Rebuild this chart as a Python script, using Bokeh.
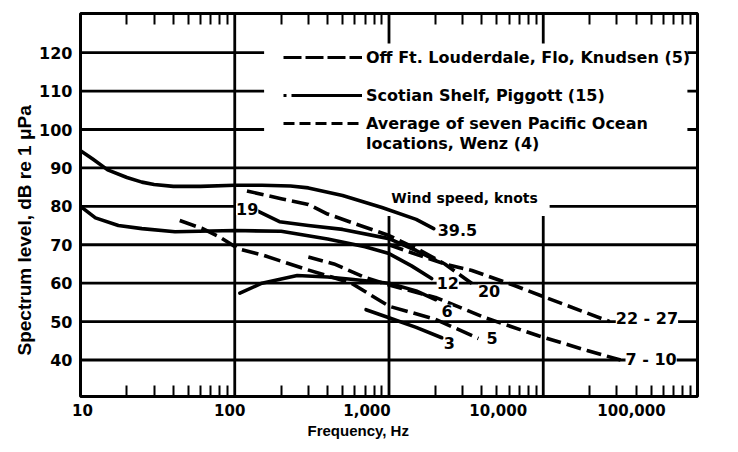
import math
from bokeh.plotting import figure
from bokeh.models import (FixedTicker, LogAxis, Label, Legend, LegendItem, Range1d, Title,
                          CustomJSTickFormatter)
from bokeh.embed import file_html
from bokeh.resources import INLINE

# ---------------- data ----------------
X_TICKS = [10, 100, 1000, 10000, 100000]
X_TICK_LABELS = ["10", "100", "1,000", "10,000", "100,000"]
Y_TICKS = [40, 50, 60, 70, 80, 90, 100, 110, 120]

# Scotian Shelf, Piggott (solid)
p39_f = [10, 12, 15, 20, 25, 30, 40, 60, 100, 150, 230, 300, 500, 900, 1500, 1950]
p39_db = [94.5, 92.3, 89.5, 87.5, 86.3, 85.7, 85.2, 85.2, 85.5, 85.5, 85.3, 84.8, 82.8, 79.7, 76.6, 74.2]
p19_f = [140, 195, 300, 500, 1000, 1500, 2000]
p19_db = [78.8, 76.0, 75.0, 74.0, 71.6, 68.5, 66.0]
p12_f = [10, 12.5, 17.6, 25, 41, 100, 200, 400, 700, 1000, 1400, 1890]
p12_db = [80.0, 77.0, 75.0, 74.2, 73.4, 73.7, 73.5, 71.5, 69.5, 67.7, 64.5, 61.2]
p6_f = [108, 150, 254, 400, 566, 1000, 1500, 2000]
p6_db = [57.4, 60.0, 62.0, 61.6, 61.0, 60.0, 58.0, 55.7]
p3_f = [710, 1000, 1500, 2200]
p3_db = [53.1, 51.0, 48.5, 45.8]
# Off Ft. Lauderdale, Knudsen (long dash)
k20_f = [120, 200, 300, 400, 600, 1000, 1600, 2300, 3450]
k20_db = [84.0, 82.0, 80.5, 78.0, 75.5, 72.4, 68.5, 65.0, 59.9]
k5_f = [44, 61, 80, 105, 155, 280, 570, 1000, 2000, 3800]
k5_db = [76.3, 74.3, 72.0, 69.0, 67.2, 63.8, 60.0, 54.0, 50.6, 45.6]
# Average of seven Pacific Ocean locations, Wenz (dashed)
w22_f = [1000, 1500, 2300, 3450, 6500, 10000, 27000]
w22_db = [70.0, 67.5, 65.0, 63.3, 59.4, 56.5, 50.0]
w7_f = [300, 440, 700, 1000, 2000, 4200, 9300, 19500, 31700]
w7_db = [66.8, 65.0, 61.5, 59.5, 56.3, 51.0, 46.3, 42.4, 40.0]

LEGEND_LABELS = ["Off Ft. Louderdale, Flo, Knudsen (5)", "Scotian Shelf, Piggott (15)",
                 "Average of seven Pacific Ocean", "locations, Wenz (4)"]

FONT = "DejaVu Sans"
TFONT = "Liberation Sans"
Y0, Y1 = 30.5, 130.2
X0, X1 = 10, 100000
PX_PER_DECADE = 154.25

p = figure(width=736, height=450, x_axis_type="log",
           x_range=Range1d(X0, X1), y_range=Range1d(Y0, Y1),
           output_backend="svg", toolbar_location=None,
           min_border_left=80, min_border_right=39, min_border_top=13, min_border_bottom=54)
p.background_fill_color = "white"
p.border_fill_color = "white"
p.outline_line_color = "black"
p.outline_line_width = 3
p.xgrid.visible = False
p.ygrid.visible = False

minor = [m * d for d in X_TICKS[:-1] for m in range(2, 10)]

# bottom axis: tick labels set slightly off their ticks, as typeset in the original
X_LABEL_SHIFT = [2, -5, -22, -45, -66]
anchors = [t * 10 ** (dx / PX_PER_DECADE) for t, dx in zip(X_TICKS, X_LABEL_SHIFT)]
xa = p.xaxis[0]
xa.ticker = FixedTicker(ticks=anchors, minor_ticks=minor)
xa.formatter = CustomJSTickFormatter(args=dict(labels=X_TICK_LABELS), code="return labels[index]")
xa.axis_line_color = None
xa.major_tick_in = 0
xa.major_tick_out = 0
xa.minor_tick_in = 11
xa.minor_tick_out = 0
xa.minor_tick_line_width = 2
xa.minor_tick_line_color = "black"
xa.major_label_standoff = 7
xa.major_label_text_font = FONT
xa.major_label_text_font_size = "15px"
xa.major_label_text_font_style = "bold"
xa.major_label_text_color = "black"

top = LogAxis(ticker=FixedTicker(ticks=[], minor_ticks=minor), axis_line_color=None,
              major_tick_in=0, major_tick_out=0, minor_tick_in=11, minor_tick_out=0,
              minor_tick_line_width=2, minor_tick_line_color="black")
p.add_layout(top, "above")

ya = p.yaxis[0]
ya.ticker = FixedTicker(ticks=Y_TICKS)
ya.axis_line_color = None
ya.major_tick_in = 0
ya.major_tick_out = 0
ya.minor_tick_line_color = None
ya.major_label_standoff = 8
ya.major_label_text_font = FONT
ya.major_label_text_font_size = "16px"
ya.major_label_text_font_style = "bold"
ya.major_label_text_color = "black"

p.add_layout(Title(text="Frequency, Hz", align="left", offset=227, standoff=3,
                   text_font=TFONT, text_font_size="15px", text_font_style="bold",
                   text_color="black"), "below")
p.add_layout(Title(text="Spectrum level, dB re 1 \u03bcPa", align="left", offset=41, standoff=4,
                   text_font=TFONT, text_font_size="19px", text_font_style="bold",
                   text_color="black"), "left")

# ---- grid lines (with the gaps of the original) ----
H_GAPS = {80: (107, 11000), 100: (155, 86000), 110: (155, 86000), 120: (155, 86000)}
hx0, hx1, hy = [], [], []
for yv in Y_TICKS:
    if yv in H_GAPS:
        a, b = H_GAPS[yv]
        hx0 += [X0, b]; hx1 += [a, X1]; hy += [yv, yv]
    else:
        hx0.append(X0); hx1.append(X1); hy.append(yv)
p.segment(x0=hx0, x1=hx1, y0=hy, y1=hy, line_color="black", line_width=2.8)
vx, vy0, vy1 = [100], [Y0], [Y1]
for xv in [1000, 10000]:
    vx += [xv, xv]; vy0 += [Y0, 122.4]; vy1 += [77.5, Y1]
p.segment(x0=vx, x1=vx, y0=vy0, y1=vy1, line_color="black", line_width=2.8)

LW = 3.6
KN_DASH = "17 6"
WZ_DASH = "15 6"
for f, d in [(p39_f, p39_db), (p19_f, p19_db), (p12_f, p12_db), (p6_f, p6_db), (p3_f, p3_db)]:
    p.line(f, d, line_color="black", line_width=LW, line_join="round", line_cap="round")
for f, d in [(k20_f, k20_db), (k5_f, k5_db)]:
    p.line(f, d, line_color="black", line_width=LW, line_dash=KN_DASH, line_join="round")
for f, d in [(w22_f, w22_db), (w7_f, w7_db)]:
    p.line(f, d, line_color="black", line_width=LW, line_dash=WZ_DASH, line_join="round")

# ---- legend (three blocks); sample renderers hold no visible data ----
nan = float("nan")
r_kn = p.line([X0, X0], [nan, nan], line_color="black", line_width=3, line_dash="18 4")
r_pg = p.line([X0, X0], [nan, nan], line_color="black", line_width=3, line_dash="3 5 71")
r_wz = p.line([X0, X0], [nan, nan], line_color="black", line_width=3, line_dash="11 5")
r_blank = p.line([X0, X0], [nan, nan], line_alpha=0)

def mk_legend(items, loc):
    lg = Legend(items=items, location=loc, orientation="vertical",
                padding=0, margin=0, spacing=0, label_height=20, glyph_height=20,
                glyph_width=79, label_standoff=4,
                label_text_font=FONT, label_text_font_size="16px", label_text_font_style="bold",
                label_text_color="black",
                background_fill_alpha=0, border_line_color=None)
    p.add_layout(lg)

mk_legend([LegendItem(label=LEGEND_LABELS[0], renderers=[r_kn])], (203, 329))
mk_legend([LegendItem(label=LEGEND_LABELS[1], renderers=[r_pg])], (203, 291))
mk_legend([LegendItem(label=LEGEND_LABELS[2], renderers=[r_wz]),
           LegendItem(label=LEGEND_LABELS[3], renderers=[r_blank])], (203, 243))

# ---- curve labels ----
def lab(text, x, y, dx, dy, align="left", size="16px"):
    p.add_layout(Label(x=x, y=y, x_offset=dx, y_offset=dy, text=text, text_align=align,
                       text_baseline="middle", text_font=FONT, text_font_size=size,
                       text_font_style="bold", text_color="black",
                       background_fill_color="white", background_fill_alpha=1.0))

lab("39.5", p39_f[-1], p39_db[-1], 4, -1)
lab("19", p19_f[0], p19_db[0], 1, 2, align="right")
lab("12", p12_f[-1], p12_db[-1], 5, -4)
lab("20", k20_f[-1], k20_db[-1], 6, -7)
lab("6", p6_f[-1], p6_db[-1], 6, -11)
lab("5", k5_f[-1], k5_db[-1], 8, 0)
lab("3", p3_f[-1], p3_db[-1], 2, -5)
lab("22 - 27", w22_f[-1], w22_db[-1], 6, 3)
lab("7 - 10", w7_f[-1], w7_db[-1], 5, 1)
p.add_layout(Label(x=3090, y=82.3, text="Wind speed, knots", text_align="center",
                   text_baseline="middle", text_font=FONT, text_font_size="14px",
                   text_font_style="bold", text_color="black"))

open("out.html", "w").write(file_html(p, INLINE))
